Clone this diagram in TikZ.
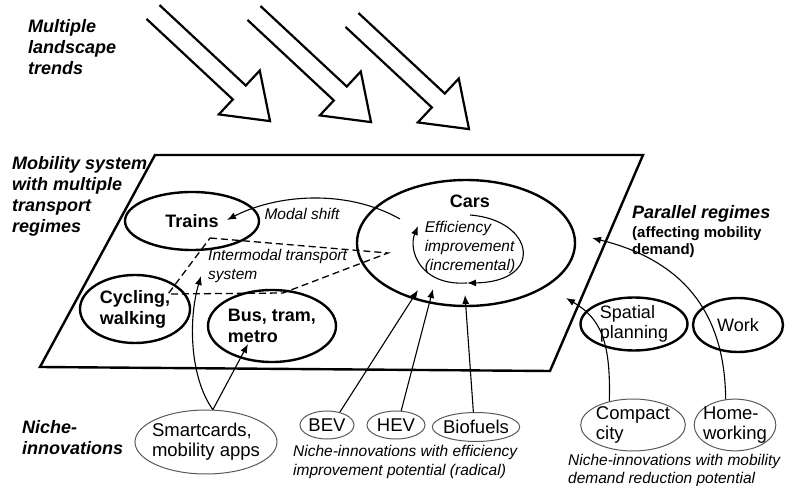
\documentclass[tikz,border=0pt]{standalone}
\usepackage{fontspec}
\setmainfont{Liberation Sans}
\usetikzlibrary{positioning,shapes.geometric,arrows.meta}

\begin{document}
\begin{tikzpicture}[x=1pt, y=-1pt,
    regime/.style={draw, ellipse, line width=2.4pt, inner sep=0pt, align=left, font=\fontsize{18}{21}\selectfont\bfseries},
    parallelreg/.style={regime, font=\fontsize{18}{20}\selectfont},
    niche/.style={draw=black!65, ellipse, line width=1pt, inner sep=0pt, align=left, font=\fontsize{18.5}{20}\selectfont},
    heading/.style={anchor=west, inner sep=0pt, align=left, font=\fontsize{18}{21}\selectfont\bfseries\itshape},
    note/.style={anchor=west, inner sep=0pt, align=left, font=\fontsize{15.5}{19}\selectfont\itshape},
    link/.style={-{Latex[length=9pt,width=7pt]}, line width=1.1pt},
    bigarrow/.style={line width=2.2pt, line join=miter}]

\useasboundingbox (0,0) rectangle (785,486);

% landscape pressure
\foreach \tx/\ty in {153/12, 254/13, 352/20}
  \draw[bigarrow, shift={(\tx,\ty)}, rotate=-43] (0,-9.5) -- (118,-9.5) -- (118,-30) -- (160,0) -- (118,30) -- (118,9.5) -- (0,9.5);

% regime plane
\coordinate (plane-nw) at (155,155);
\coordinate (plane-ne) at (643,155);
\coordinate (plane-se) at (550,371);
\coordinate (plane-sw) at (40,367);
\draw[line width=2.4pt, line join=miter] (plane-nw) -- (plane-ne) -- (plane-se) -- (plane-sw) -- cycle;

% labels on the left
\node[heading] (landscape) at (28,47) {Multiple\\landscape\\trends};
\node[heading] (mobility) at (12,196) {Mobility system\\with multiple\\transport\\regimes};
\node[heading] (niches) at (22,438) {Niche-\\innovations};

% transport regimes
\node[regime, minimum width=134pt, minimum height=58pt] (trains) at (192,221) {Trains};
\node[regime, minimum width=110pt, minimum height=68pt] (cycling) at (135,309) {Cycling,\\walking};
\node[regime, minimum width=128pt, minimum height=72pt] (bus) at (272,326) {Bus, tram,\\metro};
\node[regime, minimum width=218pt, minimum height=126pt] (cars) at (466,243) {};
\node[font=\fontsize{18}{21}\selectfont\bfseries, inner sep=0pt] (cars-label) at (470,201) {Cars};
\node[note, anchor=center] (efficiency) at (470,247) {Efficiency\\improvement\\(incremental)};
\node[note, anchor=center] (modal) at (302,214) {Modal shift};
\node[note] (intermodal) at (208,266) {Intermodal transport\\system};

% intermodal system
\draw[line width=1.3pt, dash pattern=on 7pt off 4pt] (210,238) -- (388,253) -- (283,293) -- (168,294) -- cycle;

% modal shift and incremental loop
\coordinate (shift-start) at (400,219);
\coordinate (shift-end) at (227,220);
\draw[link] (shift-start) .. controls (345,188) and (275,195) .. (shift-end);

\coordinate (loop-top) at (470,215);
\coordinate (loop-bottom) at (467,283);
\coordinate (loop-left) at (418,226);
\draw[link] (loop-top) .. controls (535,220) and (545,282) .. (loop-bottom);
\draw[link] (loop-bottom) .. controls (420,286) and (408,250) .. (loop-left);

% parallel regimes
\node[heading] (parallel) at (632,214) {Parallel regimes};
\node[inner sep=0pt, align=left, font=\fontsize{15}{17}\selectfont\bfseries, below right=4pt and 0pt of parallel.south west] (affect) {(affecting mobility\\demand)};
\node[parallelreg, minimum width=107pt, minimum height=53pt] (spatial) at (634,324) {Spatial\\planning};
\node[parallelreg, minimum width=90pt, minimum height=54pt] (work) at (738,325) {Work};

% niche-innovations
\node[niche, minimum width=142pt, minimum height=64pt, inner xsep=-4pt] (smart) at (206,442) {Smartcards,\\mobility apps};
\node[niche, minimum width=54pt, minimum height=28pt] (bev) at (327,425) {BEV};
\node[niche, minimum width=58pt, minimum height=28pt] (hev) at (396,425) {HEV};
\node[niche, minimum width=87pt, minimum height=29pt, inner xsep=-2pt] (biofuels) at (476,427) {Biofuels};
\node[niche, minimum width=102pt, minimum height=50pt] (compact) at (633,425) {Compact\\city};
\node[niche, minimum width=80pt, minimum height=50pt, inner xsep=-3pt] (home) at (735,425) {Home-\\working};

\node[note] (eff-caption) at (293,462) {Niche-innovations with efficiency\\improvement potential (radical)};
\node[note, font=\fontsize{15.5}{18}\selectfont\itshape] (mob-caption) at (568,470) {Niche-innovations with mobility\\demand reduction potential};

% niche links
\coordinate (smart-tip) at (201,276);
\coordinate (metro-tip) at (248,344);
\draw[link] (smart.78) .. controls (190,378) and (188,320) .. (smart-tip);
\draw[link] (smart.78) -- (metro-tip);

\coordinate (bev-tip) at (418,290);
\coordinate (hev-tip) at (433,289);
\coordinate (bio-tip) at (465,295);
\draw[link] (bev.45) -- (bev-tip);
\draw[link] (hev.70) -- (hev-tip);
\draw[link] (biofuels.100) -- (bio-tip);

\coordinate (spatial-tip) at (566,298);
\coordinate (regime-tip) at (592,238);
\draw[link] (compact.135) .. controls (611,340) and (600,318) .. (spatial-tip);
\draw[link] (home.110) .. controls (725,320) and (690,262) .. (regime-tip);

\end{tikzpicture}
\end{document}
